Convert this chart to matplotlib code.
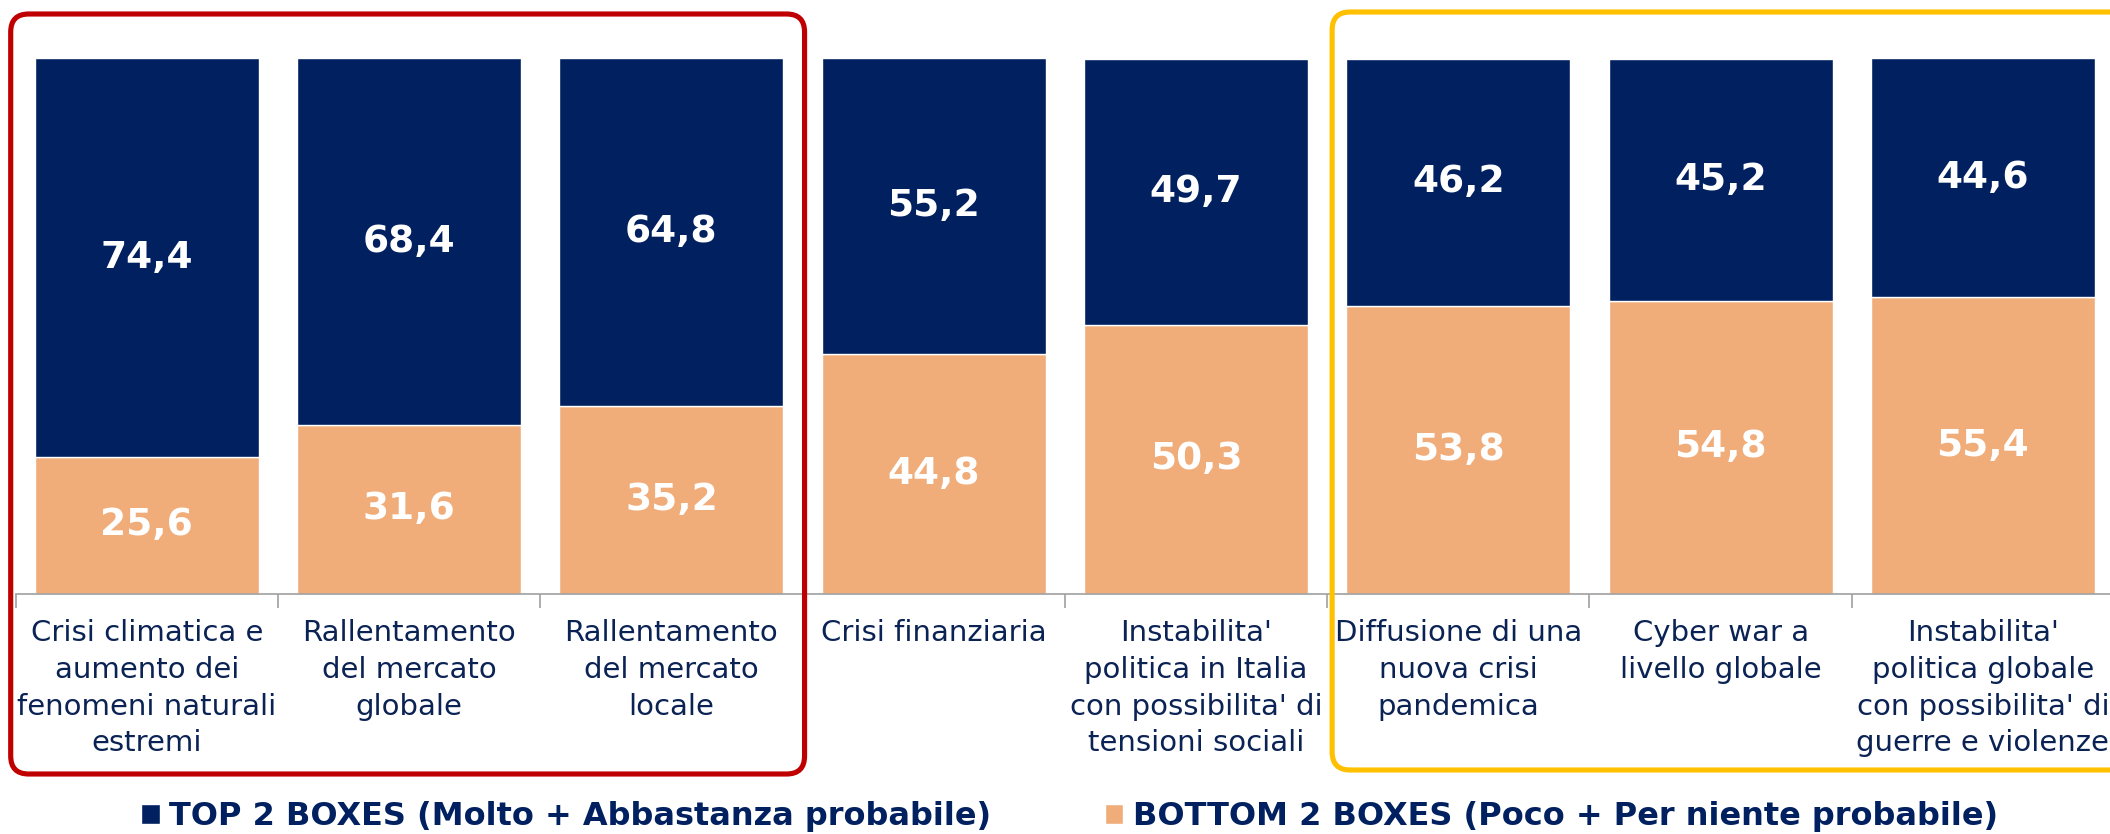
import matplotlib
matplotlib.use("Agg")
import matplotlib.pyplot as plt
from matplotlib.patches import FancyBboxPatch
import numpy as np

categories = [
    "Crisi climatica e\naumento dei\nfenomeni naturali\nestremi",
    "Rallentamento\ndel mercato\nglobale",
    "Rallentamento\ndel mercato\nlocale",
    "Crisi finanziaria",
    "Instabilita'\npolitica in Italia\ncon possibilita' di\ntensioni sociali",
    "Diffusione di una\nnuova crisi\npandemica",
    "Cyber war a\nlivello globale",
    "Instabilita'\npolitica globale\ncon possibilita' di\nguerre e violenze",
]
bottom_2 = [25.6, 31.6, 35.2, 44.8, 50.3, 53.8, 54.8, 55.4]
top_2 = [74.4, 68.4, 64.8, 55.2, 49.7, 46.2, 45.2, 44.6]
series_names = ["TOP 2 BOXES (Molto + Abbastanza probabile)",
                "BOTTOM 2 BOXES (Poco + Per niente probabile)"]

NAVY = "#002060"
PEACH = "#F0AD7A"
TEXT = "#0B2254"

W, H = 2110, 834
fig = plt.figure(figsize=(W / 100, H / 100), dpi=100)
ax = fig.add_axes([15.7 / W, 240 / H, 2098.3 / W, 535.5 / H])

x = np.arange(len(categories))
b1 = ax.bar(x, bottom_2, width=0.854, color=PEACH, edgecolor="white", linewidth=1)
b2 = ax.bar(x, top_2, width=0.854, bottom=bottom_2, color=NAVY, edgecolor="white", linewidth=1)

for bars, vals, base in [(b1, bottom_2, [0] * len(x)), (b2, top_2, bottom_2)]:
    for bar, v, b in zip(bars, vals, base):
        ax.text(bar.get_x() + bar.get_width() / 2, b + v / 2, f"{v:.1f}".replace(".", ","),
                ha="center", va="center", color="white", fontsize=27, fontweight="bold")

ax.set_xlim(-0.5, len(x) - 0.5)
ax.set_ylim(0, 100)
for s in ["top", "right", "left"]:
    ax.spines[s].set_visible(False)
ax.spines["bottom"].set_color("#A0A0A0")
ax.spines["bottom"].set_linewidth(1.2)
ax.set_yticks([])
ax.set_xticks(x)
ax.set_xticklabels(categories, fontsize=21, color=TEXT, linespacing=1.4)
ax.tick_params(axis="x", which="major", length=0, pad=18)
ax.set_xticks(np.arange(len(x) + 1) - 0.5, minor=True)
ax.tick_params(axis="x", which="minor", length=10, color="#A0A0A0", width=1.2)

leg = fig.legend([b2, b1], series_names, loc="center", bbox_to_anchor=(0.507, 1 - 817 / H),
                 ncol=2, frameon=False, handlelength=0.58, handleheight=0.58, handletextpad=0.3,
                 columnspacing=3.55, prop={"size": 23, "weight": "bold"})
for t in leg.get_texts():
    t.set_color(NAVY)

# rounded boxes around groups of categories
deco = fig.add_axes([0, 0, 1, 1], zorder=5)
deco.set_xlim(0, W)
deco.set_ylim(0, H)
deco.axis("off")
fig.canvas.draw()
to_px = ax.transData.transform


def group_box(first, last, dx0, dx1, y_top, y_bot, color):
    x0 = to_px((first - 0.5, 0))[0] + dx0
    x1 = to_px((last + 0.5, 0))[0] + dx1
    r = 18
    box = FancyBboxPatch((x0 + r, H - y_bot + r), x1 - x0 - 2 * r, y_bot - y_top - 2 * r,
                         boxstyle=f"round,pad={r}", fill=False, edgecolor=color, linewidth=3.7)
    deco.add_patch(box)


group_box(0, 2, -5, 2, 14, 774, "#C00000")
group_box(5, 7, 5, 30, 12, 770, "#FFC000")

fig.savefig("out.png", dpi=100)
